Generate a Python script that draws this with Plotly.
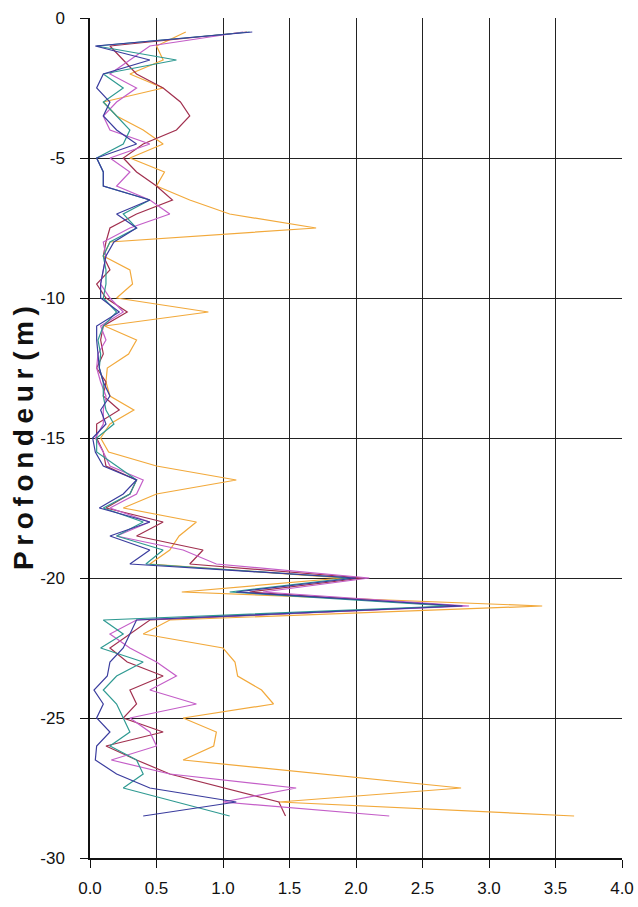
import plotly.graph_objects as go

depths = [-0.5 * (i + 1) for i in range(57)]

orange = [0.72, 0.50, 0.55, 0.30, 0.55, 0.10, 0.20, 0.40, 0.55, 0.30,
          0.56, 0.50, 0.75, 1.05, 1.70, 0.15, 0.10, 0.30, 0.32, 0.20,
          0.89, 0.11, 0.35, 0.29, 0.13, 0.12, 0.15, 0.33, 0.15, 0.08,
          0.14, 0.50, 1.10, 0.50, 0.25, 0.80, 0.67, 0.60, 0.45, 1.90,
          0.69, 3.40, 0.60, 0.40, 1.00, 1.09, 1.11, 1.29, 1.38, 0.70,
          0.95, 0.93, 0.70, 1.75, 2.79, 1.42, 3.64]
maroon = [1.18, 0.15, 0.25, 0.35, 0.55, 0.68, 0.75, 0.65, 0.40, 0.25,
          0.35, 0.50, 0.62, 0.35, 0.15, 0.12, 0.10, 0.15, 0.05, 0.12,
          0.28, 0.10, 0.08, 0.10, 0.05, 0.12, 0.10, 0.22, 0.05, 0.05,
          0.10, 0.12, 0.35, 0.30, 0.12, 0.55, 0.35, 0.85, 0.75, 2.05,
          1.20, 2.75, 0.45, 0.30, 0.15, 0.28, 0.55, 0.30, 0.35, 0.25,
          0.55, 0.12, 0.35, 0.60, 1.00, 1.42, 1.47]
magenta = [1.15, 0.45, 0.30, 0.15, 0.35, 0.20, 0.10, 0.15, 0.45, 0.15,
           0.30, 0.20, 0.45, 0.60, 0.30, 0.10, 0.12, 0.10, 0.08, 0.15,
           0.25, 0.08, 0.12, 0.06, 0.05, 0.08, 0.12, 0.10, 0.10, 0.04,
           0.10, 0.15, 0.40, 0.35, 0.15, 0.45, 0.20, 0.70, 0.95, 2.10,
           1.30, 2.85, 0.35, 0.15, 0.30, 0.50, 0.65, 0.45, 0.80, 0.30,
           0.45, 0.50, 0.16, 0.60, 1.55, 1.00, 2.25]
teal = [1.20, 0.05, 0.65, 0.10, 0.25, 0.10, 0.20, 0.30, 0.25, 0.05,
        0.10, 0.10, 0.45, 0.25, 0.35, 0.15, 0.10, 0.12, 0.12, 0.10,
        0.20, 0.10, 0.06, 0.08, 0.07, 0.10, 0.10, 0.12, 0.18, 0.05,
        0.05, 0.20, 0.35, 0.30, 0.10, 0.40, 0.20, 0.55, 0.42, 1.95,
        1.05, 2.70, 0.10, 0.25, 0.08, 0.40, 0.20, 0.10, 0.20, 0.25,
        0.30, 0.15, 0.35, 0.40, 0.25, 0.65, 1.05]
navy = [1.22, 0.04, 0.45, 0.10, 0.05, 0.15, 0.10, 0.20, 0.35, 0.05,
        0.10, 0.10, 0.45, 0.20, 0.35, 0.18, 0.12, 0.10, 0.08, 0.08,
        0.22, 0.05, 0.05, 0.06, 0.07, 0.10, 0.15, 0.08, 0.12, 0.02,
        0.04, 0.10, 0.35, 0.25, 0.07, 0.45, 0.15, 0.45, 0.30, 2.00,
        1.10, 2.80, 0.35, 0.30, 0.25, 0.15, 0.13, 0.03, 0.10, 0.05,
        0.15, 0.05, 0.04, 0.20, 0.45, 1.10, 0.40]

series = [
    ("orange", orange, "#F2A93B"),
    ("maroon", maroon, "#A1304F"),
    ("magenta", magenta, "#C45EC8"),
    ("teal", teal, "#2F9A92"),
    ("navy", navy, "#3A3C9E"),
]

x_ticks = [0.0, 0.5, 1.0, 1.5, 2.0, 2.5, 3.0, 3.5, 4.0]
y_ticks = [0, -5, -10, -15, -20, -25, -30]

fig = go.Figure()
for name, vals, col in series:
    fig.add_trace(go.Scatter(x=vals, y=depths, mode="lines", name=name,
                             line=dict(color=col, width=1.2)))

sp = "\u2009"
title = sp.join(list("Profondeur")) + " " + sp.join(list("(m)"))

fig.update_layout(
    width=638, height=907,
    margin=dict(l=90, r=16, t=18, b=49, autoexpand=False),
    paper_bgcolor="white", plot_bgcolor="white",
    showlegend=False,
    font=dict(family="Liberation Sans, Arial, sans-serif", color="#111", size=17),
    xaxis=dict(range=[0, 4], tickvals=x_ticks, ticktext=[f"{v:.1f}" for v in x_ticks],
               showgrid=True, gridcolor="#222", gridwidth=1.3,
               showline=True, linecolor="#111", linewidth=1.5,
               ticks="outside", ticklen=8, tickcolor="#111", ticklabelstandoff=6,
               zeroline=False, automargin=False),
    yaxis=dict(range=[-30, 0], tickvals=y_ticks, ticktext=[str(v) for v in y_ticks],
               showgrid=True, gridcolor="#222", gridwidth=1.3,
               showline=True, linecolor="#111", linewidth=1.5,
               ticks="outside", ticklen=8, tickcolor="#111", ticklabelstandoff=12,
               zeroline=False, automargin=False),
    annotations=[dict(text=title, textangle=-90, xref="paper", yref="paper",
                      x=-0.126, y=0.5, xanchor="center", yanchor="middle",
                      showarrow=False,
                      font=dict(size=28, family="Liberation Sans, Arial, sans-serif",
                                weight="bold", color="#111"))],
)

fig.write_html("out.html", config={"displayModeBar": False},
               post_script="document.body.style.margin='0';document.body.style.overflow='hidden';")
